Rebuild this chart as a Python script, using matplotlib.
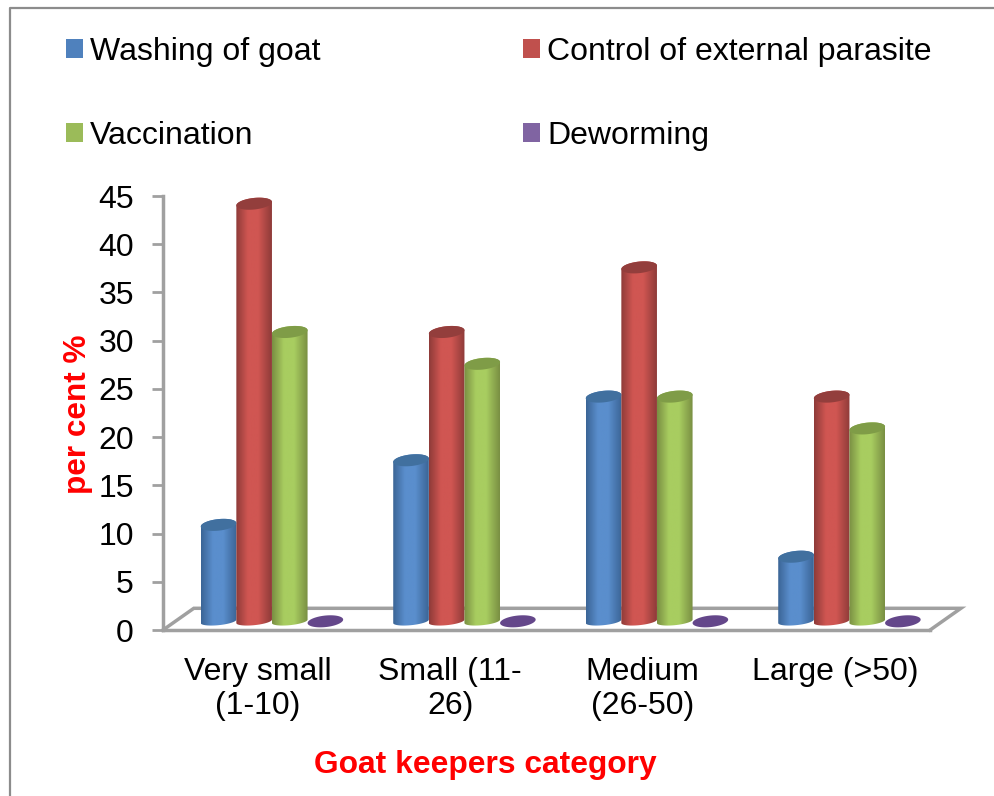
import numpy as np
import matplotlib
matplotlib.use('Agg')
import matplotlib.pyplot as plt
from matplotlib.colors import LinearSegmentedColormap
from matplotlib.lines import Line2D
from matplotlib.patches import Patch, Polygon

plt.rcParams['font.family'] = ['Liberation Sans', 'DejaVu Sans']

# Data
categories = ['Very small\n(1-10)', 'Small (11-\n26)', 'Medium\n(26-50)', 'Large (>50)']
series_names = ['Washing of goat', 'Control of external parasite', 'Vaccination', 'Deworming']
washing = [10, 16.7, 23.3, 6.7]
parasite = [43.3, 30, 36.7, 23.3]
vaccination = [30, 26.7, 23.3, 20]
deworming = [0, 0, 0, 0]
yticks = [0, 5, 10, 15, 20, 25, 30, 35, 40, 45]

# Colours: edge shade, mid tone, top cap, legend square
blue = ('#3b6596', '#5a8ecd', '#41709f', '#4f81bd')
red = ('#8f3b39', '#d05652', '#933e3c', '#c0504d')
green = ('#7a8f43', '#a8cd60', '#7f9c47', '#9bbb59')
purple = ('#5b3f7c', '#64478a', '#64478a', '#8064a2')
grey = '#a0a0a0'

W, H = 994, 796
fig = plt.figure(figsize=(W / 100, H / 100), dpi=100)
ax = fig.add_axes([163 / W, 1 - 630 / H, 770 / W, 434 / H])
ax.set_xlim(-0.5, 3.5)
ax.set_ylim(0, 45)

# 3D look: offset of the back floor edge and of the bar bases
floor_end = 3.485
floor_dx, floor_dy = 0.16, 2.25
base_dx, base_dy = 0.066, 0.9
bar_w = 0.185
cap_h = 0.6
base_h = 0.4
tilt = 0.18


def ring(cx, cy, half_w, t, h=cap_h):
    return np.column_stack([cx + half_w * np.cos(t),
                            cy + h * np.sin(t) + tilt * np.cos(t)])


def draw_cylinder(cx, val, cols):
    left, right = cx - bar_w / 2, cx + bar_w / 2
    top = base_dy + val
    under = ring(cx, base_dy, bar_w / 2, np.linspace(0, -np.pi, 40), base_h)
    over = ring(cx, top, bar_w / 2, np.linspace(np.pi, 0, 40))
    body = Polygon(np.vstack([under, over]), closed=True,
                   transform=ax.transData, facecolor='none', edgecolor='none')
    ax.add_patch(body)
    cmap = LinearSegmentedColormap.from_list(
        'c', [(0, cols[0]), (0.33, cols[1]), (0.62, cols[1]), (1, cols[0])])
    im = ax.imshow(np.linspace(0, 1, 64)[None, :], cmap=cmap, aspect='auto',
                   extent=(left, right, base_dy - 1, top + 1), zorder=3,
                   interpolation='bilinear')
    im.set_clip_path(body)
    cap = ring(cx, top, bar_w / 2, np.linspace(0, 2 * np.pi, 60))
    ax.add_patch(Polygon(cap, closed=True, facecolor=cols[2], edgecolor='none',
                         zorder=3.1, clip_on=False))


# Floor
x0 = ax.get_xlim()[0]
ax.plot([x0, x0 + floor_dx, floor_end + floor_dx, floor_end], [0, floor_dy, floor_dy, 0],
        color=grey, lw=2.5, clip_on=False, zorder=1, solid_joinstyle='miter')

# Bars
all_series = [washing, parasite, vaccination, deworming]
all_cols = [blue, red, green, purple]
for i in range(len(categories)):
    for j, (vals, cols) in enumerate(zip(all_series, all_cols)):
        cx = i + base_dx + (j - 1.5) * bar_w
        if vals[i] == 0:
            flat = ring(cx, base_dy, bar_w / 2, np.linspace(0, 2 * np.pi, 60))
            ax.add_patch(Polygon(flat, closed=True, facecolor=cols[1],
                                 edgecolor='none', zorder=3, clip_on=False))
        else:
            draw_cylinder(cx, vals[i], cols)
ax.set_xlim(-0.5, 3.5)
ax.set_ylim(0, 45)

# Axes
ax.patch.set_visible(False)
for s in ['top', 'right']:
    ax.spines[s].set_visible(False)
for s in ['left', 'bottom']:
    ax.spines[s].set_color(grey)
    ax.spines[s].set_linewidth(2.5)
ax.spines['bottom'].set_bounds(-0.5, floor_end)
ax.set_yticks(yticks)
ax.set_xticks(np.arange(len(categories)) - 0.008)
ax.set_xticklabels(categories, linespacing=1.17)
ax.tick_params(axis='y', labelsize=23, color=grey, width=2, length=8, pad=13)
ax.tick_params(axis='x', labelsize=23, length=0, pad=19.5)
fig.text(485 / W, 1 - 765 / H, 'Goat keepers category', color='#ff0000', fontsize=22.9,
         fontweight='bold', ha='center', va='center')
fig.text(78 / W, 1 - 414 / H, 'per cent %', color='#ff0000', fontsize=22.7,
         fontweight='bold', rotation=90, ha='center', va='center')

# Legend
handles = [Patch(facecolor=c[3], edgecolor='none') for c in all_cols]
order = [0, 2, 1, 3]
fig.legend([handles[k] for k in order], [series_names[k] for k in order], ncol=2,
           loc='upper left', bbox_to_anchor=(53 / W, 1 - 24 / H), frameon=False,
           fontsize=23, handlelength=0.53, handleheight=0.53, handletextpad=0.22,
           labelspacing=1.7, columnspacing=6.36, borderpad=0.4, borderaxespad=0)

# Chart frame
fig.add_artist(Line2D([10 / W, 10 / W, 1], [0, 1 - 8 / H, 1 - 8 / H],
                      color='#8c8c8c', lw=1.6, transform=fig.transFigure))

fig.savefig('out.png', dpi=100)
